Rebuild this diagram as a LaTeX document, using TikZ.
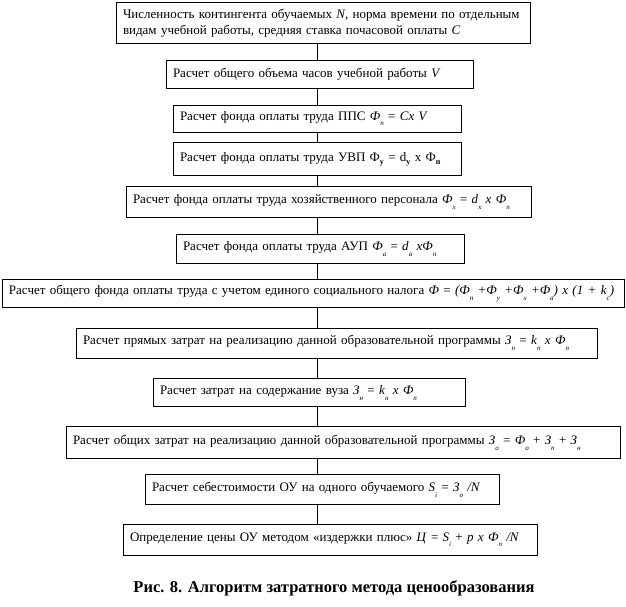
\documentclass[tikz,border=0pt]{standalone}
\usepackage{fontspec}
\setmainfont{Liberation Serif}
\usetikzlibrary{positioning}
% low index, as in the figure
\newcommand{\lo}[1]{\raisebox{-1.0ex}{\scriptsize\itshape #1}}
\newcommand{\lob}[1]{\raisebox{-0.6ex}{\footnotesize\bfseries #1}}

\begin{document}
\begin{tikzpicture}[x=1pt, y=1pt,
        stepbox/.style={rectangle, draw=black, line width=0.8pt, inner xsep=7pt, text width=#1, align=left, font=\fontsize{13}{16}\selectfont},
        link/.style={draw=black, line width=0.8pt}
    ]
        \useasboundingbox (0,0) rectangle (626,-607);
        \coordinate (axis) at (317,0);

        \node[stepbox=400pt, anchor=north, minimum height=41pt] (N1) at (323,-2)
            {Численность контингента обучаемых \textit{N}, норма времени по отдельным\\видам учебной работы, средняя ставка почасовой оплаты \textit{C}};
        \node[stepbox=293pt, below=16pt of N1, xshift=-3.5pt, minimum height=28pt] (N2)
            {Расчет общего объема часов учебной работы \textit{V}};
        \node[stepbox=274pt, below=16pt of N2, xshift=-2.5pt, minimum height=27pt] (N3)
            {Расчет фонда оплаты труда ППС \textit{Ф}\lo{п} = \textit{Cx V}};
        \node[stepbox=274pt, below=10pt of N3, minimum height=33pt] (N4)
            {Расчет фонда оплаты труда УВП Ф\lob{у} = d\lob{у} x Ф\lob{п}};
        \node[stepbox=391pt, below=10pt of N4, xshift=11.5pt, minimum height=31pt] (N5)
            {Расчет фонда оплаты труда хозяйственного персонала \textit{Ф}\lo{х} = \textit{d}\lo{х} \textit{x Ф}\lo{п}};
        \node[stepbox=274pt, below=16pt of N5, xshift=-8.5pt, minimum height=29pt] (N6)
            {Расчет фонда оплаты труда АУП \textit{Ф}\lo{а} = \textit{d}\lo{а} \textit{xФ}\lo{п}};
        \node[stepbox=608pt, below=15pt of N6, xshift=-7pt, minimum height=28pt] (N7)
            {Расчет общего фонда оплаты труда с учетом единого социального налога \textit{Ф} = \textit{(Ф}\lo{п} \textit{+Ф}\lo{у} \textit{+Ф}\lo{х} \textit{+Ф}\lo{а}\textit{) x (1 + k}\lo{с}\textit{)}};
        \node[stepbox=507pt, below=20pt of N7, xshift=23.5pt, minimum height=30pt] (N8)
            {Расчет прямых затрат на реализацию данной образовательной программы \textit{З}\lo{п} = \textit{k}\lo{п} \textit{x Ф}\lo{п}};
        \node[stepbox=298pt, below=20pt of N8, xshift=-27.5pt, minimum height=28pt] (N9)
            {Расчет затрат на содержание вуза \textit{З}\lo{н} = \textit{k}\lo{н} \textit{x Ф}\lo{п}};
        \node[stepbox=540pt, below=19pt of N9, xshift=34pt, minimum height=32pt] (N10)
            {Расчет общих затрат на реализацию данной образовательной программы \textit{З}\lo{о} = \textit{Ф}\lo{о} + \textit{З}\lo{п} + \textit{З}\lo{н}};
        \node[stepbox=340pt, below=15pt of N10, xshift=-21pt, minimum height=30pt] (N11)
            {Расчет себестоимости ОУ на одного обучаемого \textit{S}\lo{i} = \textit{З}\lo{о} \textit{/N}};
        \node[stepbox=400pt, below=19pt of N11, xshift=8pt, minimum height=31pt] (N12)
            {Определение цены ОУ методом «издержки плюс» \textit{Ц} = \textit{S}\lo{i} + \textit{p x Ф}\lo{п} \textit{/N}};

        \node[font=\fontsize{16.5}{19}\selectfont\bfseries] (CAP) at (334,-588) {Рис. 8. Алгоритм затратного метода ценообразования};

        \foreach \a/\b in {N1/N2, N2/N3, N3/N4, N4/N5, N5/N6, N6/N7, N7/N8, N8/N9, N9/N10, N10/N11, N11/N12}
            \draw[link] (\a.south -| axis) -- (\b.north -| axis);
    \end{tikzpicture}
\end{document}
